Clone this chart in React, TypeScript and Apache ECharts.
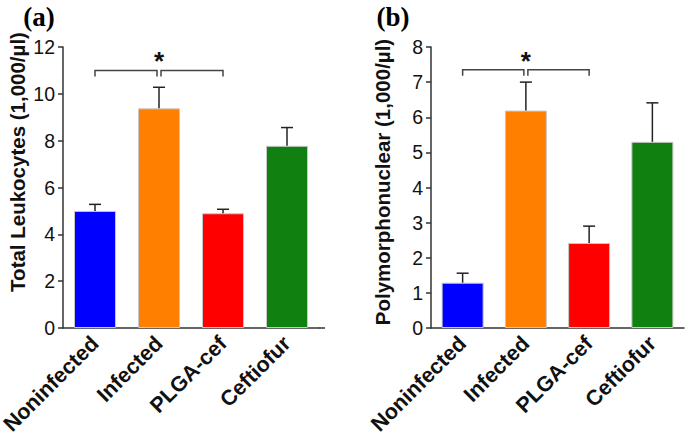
import React, { useEffect, useRef } from "react";
import * as echarts from "echarts";

const categories = ["Noninfected", "Infected", "PLGA-cef", "Ceftiofur"];
const barColors = ["#0000ff", "#ff8000", "#ff0000", "#108010"];

const leukocytes = [5.0, 9.38, 4.9, 7.78];
const leukocytesErr = [0.28, 0.9, 0.17, 0.78];
const leukTicks = { min: 0, max: 12, interval: 2 };
const leukBracketLevel = 11;

const pmn = [1.29, 6.19, 2.42, 5.3];
const pmnErr = [0.27, 0.81, 0.48, 1.11];
const pmnTicks = { min: 0, max: 8, interval: 1 };
const pmnBracketLevel = 7.35;

// comparisons: [other group, reference group]
const comparisons = [
  [0, 1],
  [2, 1],
];

const AXIS_COLOR = "#333";
const TEXT_COLOR = "#111";
const SANS = "'Liberation Sans', Arial, sans-serif";

function errorSeries(idx: number, values: number[], errs: number[]) {
  return {
    type: "custom",
    xAxisIndex: idx,
    yAxisIndex: idx,
    z: 5,
    data: values.map((v, i) => [i, v, errs[i]]),
    renderItem: (params: any, api: any) => {
      const x = api.value(0);
      const v = api.value(1);
      const e = api.value(2);
      const p0 = api.coord([x, v]);
      const p1 = api.coord([x, v + e]);
      const st = { stroke: "#222", lineWidth: 1.5 };
      return {
        type: "group",
        children: [
          { type: "line", shape: { x1: p0[0], y1: p0[1], x2: p1[0], y2: p1[1] }, style: st },
          { type: "line", shape: { x1: p1[0] - 6, y1: p1[1], x2: p1[0] + 6, y2: p1[1] }, style: st },
        ],
      };
    },
  };
}

function bracketSeries(idx: number, level: number) {
  return {
    type: "custom",
    xAxisIndex: idx,
    yAxisIndex: idx,
    z: 6,
    data: comparisons.map((c) => [c[0], c[1], level]),
    renderItem: (params: any, api: any) => {
      const a = api.value(0);
      const b = api.value(1);
      const lvl = api.value(2);
      const pa = api.coord([a, lvl]);
      const pb = api.coord([b, lvl]);
      const dir = pa[0] < pb[0] ? 1 : -1;
      const xb = pb[0] - dir * 2;
      const drop = 6;
      const st = { stroke: "#444", lineWidth: 1.5, fill: "none" };
      const children: any[] = [
        {
          type: "polyline",
          shape: { points: [[pa[0], pa[1] + drop], [pa[0], pa[1]], [xb, pb[1]], [xb, pb[1] + drop]] },
          style: st,
        },
      ];
      if (params.dataIndex === 0) {
        children.push({
          type: "text",
          x: pb[0],
          y: pb[1] - 9,
          style: {
            text: "*",
            fontSize: 26,
            fontWeight: "bold",
            fontFamily: SANS,
            fill: TEXT_COLOR,
            textAlign: "center",
            textVerticalAlign: "middle",
          },
        });
      }
      return { type: "group", children };
    },
  };
}

function barSeries(idx: number, values: number[]) {
  return {
    type: "bar",
    xAxisIndex: idx,
    yAxisIndex: idx,
    barWidth: 42,
    z: 4,
    data: values.map((v, i) => ({
      value: v,
      itemStyle: { color: barColors[i], borderColor: "#c8c8c8", borderWidth: 1 },
    })),
  };
}

function xAxis(idx: number) {
  return {
    type: "category",
    gridIndex: idx,
    data: categories,
    axisLine: { lineStyle: { color: AXIS_COLOR, width: 1.5 } },
    axisTick: { alignWithLabel: true, length: 6, lineStyle: { color: AXIS_COLOR, width: 1.5 } },
    axisLabel: {
      rotate: 45,
      margin: 12,
      fontSize: 21.5,
      fontWeight: "bold",
      fontFamily: SANS,
      color: TEXT_COLOR,
      interval: 0,
    },
  };
}

function yAxis(idx: number, t: { min: number; max: number; interval: number }) {
  return {
    type: "value",
    gridIndex: idx,
    min: t.min,
    max: t.max,
    interval: t.interval,
    splitLine: { show: false },
    axisLine: { show: true, lineStyle: { color: AXIS_COLOR, width: 1.5 } },
    axisTick: { show: true, length: 5, lineStyle: { color: AXIS_COLOR, width: 1.5 } },
    axisLabel: {
      margin: 8,
      fontSize: 19.5,
      fontFamily: SANS,
      color: TEXT_COLOR,
    },
  };
}

export default function App() {
  const ref = useRef<HTMLDivElement>(null);
  useEffect(() => {
    document.body.style.margin = "0";
    if (!ref.current) return;
    const chart = echarts.init(ref.current, undefined, { renderer: "svg" });
    const titleStyle = {
      fontSize: 20.5,
      fontWeight: "bold",
      fontFamily: SANS,
      fill: TEXT_COLOR,
      textAlign: "center",
      textVerticalAlign: "middle",
    };
    const panelStyle = {
      fontSize: 27,
      fontWeight: "bold",
      fontFamily: "'Liberation Serif', 'Times New Roman', serif",
      fill: "#000",
      textAlign: "center",
      textVerticalAlign: "middle",
    };
    chart.setOption({
      animation: false,
      backgroundColor: "#fff",
      grid: [
        { left: 63, top: 47, width: 256, height: 281, containLabel: false, outerBoundsMode: "none" },
        { left: 431, top: 47, width: 253, height: 281, containLabel: false, outerBoundsMode: "none" },
      ],
      xAxis: [xAxis(0), xAxis(1)],
      yAxis: [yAxis(0, leukTicks), yAxis(1, pmnTicks)],
      series: [
        barSeries(0, leukocytes),
        errorSeries(0, leukocytes, leukocytesErr),
        bracketSeries(0, leukBracketLevel),
        barSeries(1, pmn),
        errorSeries(1, pmn, pmnErr),
        bracketSeries(1, pmnBracketLevel),
      ],
      graphic: [
        { type: "line", shape: { x1: 319, y1: 328, x2: 325, y2: 328 }, style: { stroke: AXIS_COLOR, lineWidth: 1.5 } },
        { type: "text", x: 17, y: 162, rotation: Math.PI / 2, style: { ...titleStyle, text: "Total Leukocytes (1,000/µl)" } },
        { type: "text", x: 382, y: 182, rotation: Math.PI / 2, style: { ...titleStyle, text: "Polymorphonuclear (1,000/µl)" } },
        { type: "text", x: 39, y: 17, style: { ...panelStyle, text: "(a)" } },
        { type: "text", x: 393, y: 17, style: { ...panelStyle, text: "(b)" } },
      ],
    });
    return () => chart.dispose();
  }, []);
  return <div ref={ref} style={{ width: 685, height: 441 }} />;
}
